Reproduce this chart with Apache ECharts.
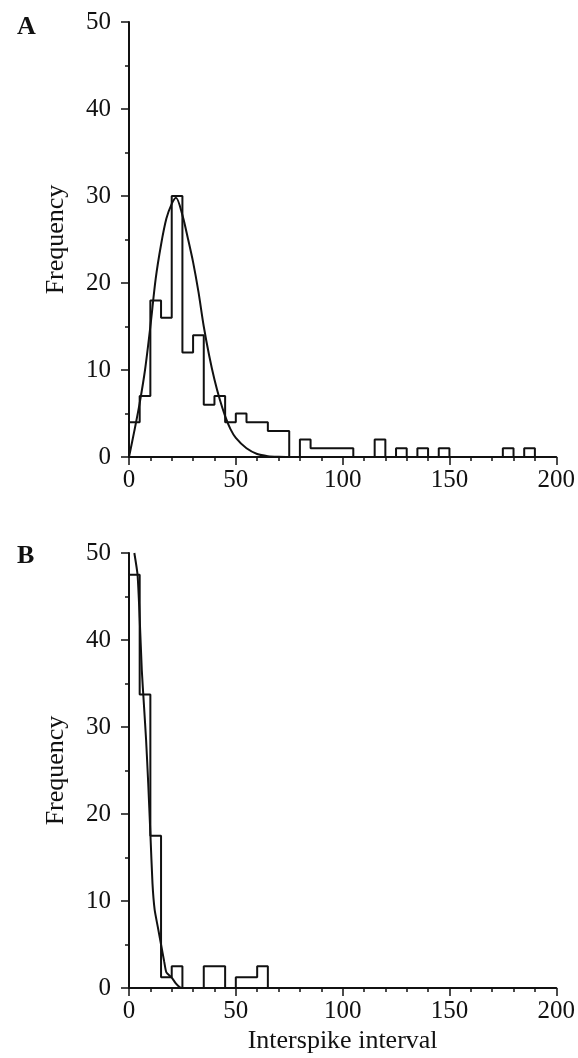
<!DOCTYPE html>
<html>
<head>
<meta charset="utf-8">
<script src="https://cdn.jsdelivr.net/npm/echarts@6/dist/echarts.min.js"></script>
<style>
  html, body { margin: 0; padding: 0; background: #fff; }
  #chart { width: 578px; height: 1058px; }
</style>
</head>
<body>
<div id="chart"></div>
<script>
// histogram bin width and the counts (bins start at 0)
var binWidth = 5;
var countsA = [4, 7, 18, 16, 30, 12, 14, 6, 7, 4, 5, 4, 4, 3, 3, 0, 2, 1, 1, 1,
               1, 0, 0, 2, 0, 1, 0, 1, 0, 1, 0, 0, 0, 0, 0, 1, 0, 1, 0, 0];
var countsB = [47.5, 33.75, 17.5, 1.25, 2.5, 0, 0, 2.5, 2.5, 0, 1.25, 1.25, 2.5];

// fitted curves, [interval, frequency]
var fitA = [[0, 0], [2.5, 3], [5, 6.2], [7.5, 10], [10, 15], [12.5, 20.5], [15, 24.4],
            [17.5, 27.4], [20, 29.1], [22, 29.8], [25, 27.8], [27.5, 25.2], [30, 22.4],
            [32.5, 19], [35, 15], [37.5, 11.7], [40, 8.9], [42.5, 6.6], [45, 4.7],
            [47.5, 3.2], [50, 2.2], [55, 1], [60, 0.35], [65, 0.1], [70, 0.02], [75, 0]];
var fitB = [[2.5, 50], [4, 47.5], [5, 42.5], [6, 36.5], [7, 32.5], [8, 28.5], [9, 23.5],
            [10, 17.8], [11, 12], [12, 9], [13.5, 7], [15, 5], [16.5, 3], [17.5, 1.8],
            [20, 1.2], [22, 0.5], [24, 0.05], [25, 0]];

var yTicks = [0, 10, 20, 30, 40, 50];
var xTicks = [0, 50, 100, 150, 200];

// turn bin counts into a step outline
function outline(counts) {
    var last = counts.length - 1;
    while (last > 0 && counts[last] == 0) last--;
    var pts = [[0, 0]];
    for (var i = 0; i <= last; i++) {
        pts.push([i * binWidth, counts[i]]);
        pts.push([(i + 1) * binWidth, counts[i]]);
    }
    pts.push([(last + 1) * binWidth, 0]);
    return pts;
}

var font = 'Liberation Serif';
var black = '#111';

function xAxisFor(idx, withName) {
    return {
        type: 'value', gridIndex: idx,
        min: xTicks[0], max: xTicks[xTicks.length - 1], interval: 50,
        name: withName ? 'Interspike interval' : '',
        nameLocation: 'middle', nameGap: 40,
        nameTextStyle: { fontFamily: font, fontSize: 26, color: black },
        axisLine: { lineStyle: { color: black, width: 2 } },
        axisTick: { inside: false, length: 8, lineStyle: { color: black, width: 1.5 } },
        minorTick: { show: true, splitNumber: 5, length: 4, lineStyle: { color: black, width: 1.5 } },
        axisLabel: { fontFamily: font, fontSize: 25, color: black, margin: 11 },
        splitLine: { show: false }
    };
}

function yAxisFor(idx) {
    return {
        type: 'value', gridIndex: idx,
        min: yTicks[0], max: yTicks[yTicks.length - 1], interval: 10,
        name: 'Frequency', nameLocation: 'middle', nameGap: 60,
        nameTextStyle: { fontFamily: font, fontSize: 26, color: black },
        axisLine: { show: true, lineStyle: { color: black, width: 2 } },
        axisTick: { show: true, inside: false, length: 8, lineStyle: { color: black, width: 1.5 } },
        minorTick: { show: true, splitNumber: 2, length: 4, lineStyle: { color: black, width: 1.5 } },
        axisLabel: { fontFamily: font, fontSize: 25, color: black, margin: 18 },
        splitLine: { show: false }
    };
}

var line = { color: black, width: 2 };

var chart = echarts.init(document.getElementById('chart'));
var option = {
    backgroundColor: '#fff',
    animation: false,
    title: [
        { text: 'A', left: 12, top: 9, textStyle: { fontFamily: font, fontWeight: 'bold', fontSize: 26, color: black } },
        { text: 'B', left: 12, top: 538, textStyle: { fontFamily: font, fontWeight: 'bold', fontSize: 26, color: black } }
    ],
    grid: [
        { left: 129, right: 19, top: 22, height: 435 },
        { left: 129, right: 19, top: 553, height: 435 }
    ],
    xAxis: [xAxisFor(0, false), xAxisFor(1, true)],
    yAxis: [yAxisFor(0), yAxisFor(1)],
    series: [
        { type: 'line', xAxisIndex: 0, yAxisIndex: 0, data: outline(countsA), showSymbol: false, lineStyle: line },
        { type: 'line', xAxisIndex: 0, yAxisIndex: 0, data: fitA, showSymbol: false, smooth: 0.3, lineStyle: line },
        { type: 'line', xAxisIndex: 1, yAxisIndex: 1, data: outline(countsB), showSymbol: false, lineStyle: line },
        { type: 'line', xAxisIndex: 1, yAxisIndex: 1, data: fitB, showSymbol: false, smooth: 0.2, lineStyle: line }
    ]
};
chart.setOption(option);
</script>
</body>
</html>
